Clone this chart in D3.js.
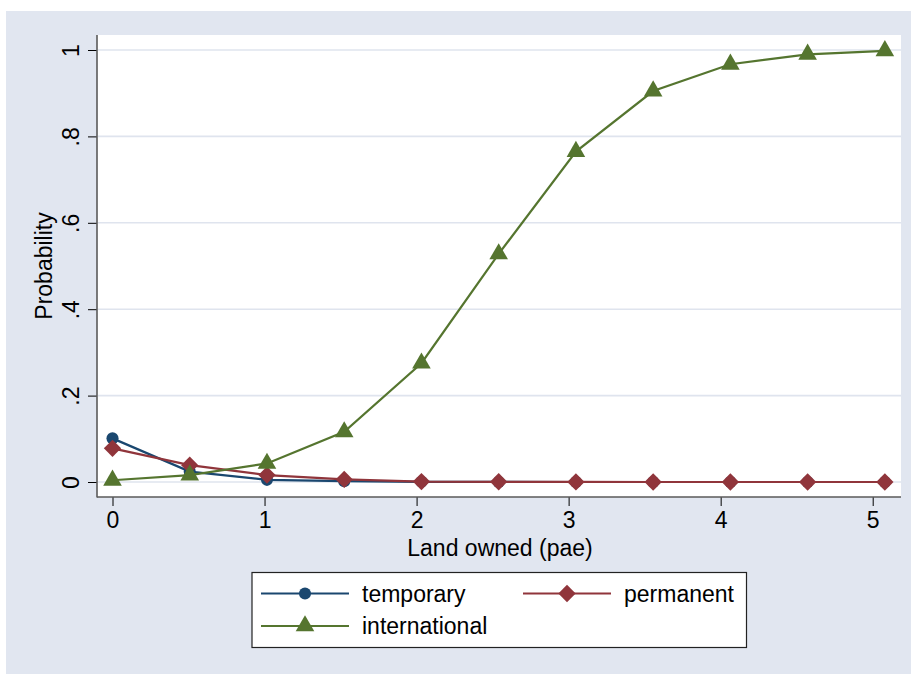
<!DOCTYPE html>
<html>
<head>
<meta charset="utf-8">
<script src="https://cdn.jsdelivr.net/npm/d3@7"></script>
<style>
  html, body { margin: 0; padding: 0; background: #ffffff; }
  svg { display: block; }
  text { font-family: "Liberation Sans", Arial, sans-serif; fill: #000; }
</style>
</head>
<body>
<svg id="chart" width="911" height="675"></svg>
<script>
// Land owned per adult equivalent (pae)
const landOwned = [0, 0.508, 1.016, 1.524, 2.032, 2.54, 3.048, 3.556, 4.064, 4.572, 5.08];

// Predicted probabilities by migration type
const temporary     = [0.101, 0.024, 0.005, 0.002, 0.0005, 0.0002, 0, 0, 0, 0, 0];
const permanent     = [0.078, 0.039, 0.016, 0.006, 0.001, 0.0005, 0.0002, 0, 0, 0, 0];
const international = [0.004, 0.016, 0.043, 0.116, 0.275, 0.528, 0.765, 0.905, 0.967, 0.990, 0.998];

const xTicks = [0, 1, 2, 3, 4, 5];
const yTicks = [0, 0.2, 0.4, 0.6, 0.8, 1];
const yTickLabels = ["0", ".2", ".4", ".6", ".8", "1"];

const seriesNames = ["temporary", "permanent", "international"];
const seriesColors = ["#1a476f", "#90353b", "#55752f"];
const seriesValues = [temporary, permanent, international];

// marker shapes: circle, square turned 45 degrees, triangle
const markerPaths = [
  d3.symbol().type(d3.symbolCircle).size(115)(),
  d3.symbol().type(d3.symbolSquare).size(150)(),
  d3.symbol().type(d3.symbolTriangle).size(150)()
];
const markerRotate = [0, 45, 0];

const svg = d3.select("#chart");
const bg = "#e1e6f0";
const FS = 23;

// graph region
svg.append("rect").attr("x", 6).attr("y", 11).attr("width", 905).attr("height", 663).attr("fill", bg);

// plot region
const plot = { left: 97, right: 901, top: 35, bottom: 497 };
svg.append("rect")
  .attr("x", plot.left).attr("y", plot.top)
  .attr("width", plot.right - plot.left).attr("height", plot.bottom - plot.top)
  .attr("fill", "#ffffff");

const x = d3.scaleLinear().domain([0, 5]).range([112.5, 872.7]);
const y = d3.scaleLinear().domain([0, 1]).range([482, 50]);

// gridlines
svg.append("g").selectAll("line").data(yTicks).join("line")
  .attr("x1", plot.left + 1).attr("x2", plot.right)
  .attr("y1", d => y(d)).attr("y2", d => y(d))
  .attr("stroke", "#dfe4ee").attr("stroke-width", 1.6);

// y axis
const yAxis = d3.axisLeft(y).tickValues(yTicks)
  .tickFormat((d, i) => yTickLabels[i]).tickSize(9).tickPadding(0);
const gy = svg.append("g").attr("transform", `translate(${plot.left},0)`).call(yAxis);
gy.select(".domain").remove();
gy.selectAll(".tick line").attr("stroke", "#000").attr("stroke-width", 1);
gy.selectAll(".tick text")
  .attr("font-size", FS).attr("text-anchor", "middle")
  .attr("x", null).attr("dy", null)
  .attr("transform", "translate(-18,0) rotate(-90)");
svg.append("line").attr("x1", plot.left).attr("x2", plot.left)
  .attr("y1", plot.top).attr("y2", plot.bottom + 0.5)
  .attr("stroke", "#5a5a5a").attr("stroke-width", 1.6);

// x axis
const xAxis = d3.axisBottom(x).tickValues(xTicks).tickFormat(d3.format("d")).tickSize(9).tickPadding(6);
const gx = svg.append("g").attr("transform", `translate(0,${plot.bottom})`).call(xAxis);
gx.select(".domain").remove();
gx.selectAll(".tick line").attr("stroke", "#000").attr("stroke-width", 1);
gx.selectAll(".tick text").attr("font-size", FS).attr("dy", "0.68em");
svg.append("line").attr("x1", plot.left).attr("x2", plot.right)
  .attr("y1", plot.bottom).attr("y2", plot.bottom)
  .attr("stroke", "#5a5a5a").attr("stroke-width", 1.6);

// axis titles
svg.append("text").attr("x", (plot.left + plot.right) / 2 + 1).attr("y", 556)
  .attr("text-anchor", "middle").attr("font-size", FS).text("Land owned (pae)");
svg.append("text").attr("transform", "translate(52,266) rotate(-90)")
  .attr("text-anchor", "middle").attr("font-size", FS).text("Probability");

// series
const line = d3.line().x(d => x(d[0])).y(d => y(d[1]));

seriesValues.forEach((vals, i) => {
  const pts = landOwned.map((lx, j) => [lx, vals[j]]);
  const g = svg.append("g");
  g.append("path").datum(pts).attr("d", line)
    .attr("fill", "none").attr("stroke", seriesColors[i]).attr("stroke-width", 2.2);
  g.selectAll("path.m").data(pts).join("path").attr("class", "m")
    .attr("transform", d => `translate(${x(d[0])},${y(d[1])}) rotate(${markerRotate[i]})`)
    .attr("d", markerPaths[i])
    .attr("fill", seriesColors[i]);
});

// legend
const legend = svg.append("g");
legend.append("rect").attr("x", 252).attr("y", 572.5).attr("width", 494.5).attr("height", 75)
  .attr("fill", "#ffffff").attr("stroke", "#222").attr("stroke-width", 1.2);

const legendItems = [
  { name: seriesNames[0], x1: 261, x2: 349, ty: 593.5, tx: 362 },
  { name: seriesNames[1], x1: 523, x2: 611, ty: 593.5, tx: 624 },
  { name: seriesNames[2], x1: 261, x2: 349, ty: 626, tx: 362 }
];
legendItems.forEach((it, i) => {
  legend.append("line").attr("x1", it.x1).attr("x2", it.x2).attr("y1", it.ty).attr("y2", it.ty)
    .attr("stroke", seriesColors[i]).attr("stroke-width", 2);
  legend.append("path")
    .attr("transform", `translate(${(it.x1 + it.x2) / 2},${it.ty}) rotate(${markerRotate[i]})`)
    .attr("d", markerPaths[i])
    .attr("fill", seriesColors[i]);
  legend.append("text").attr("x", it.tx).attr("y", it.ty + 8)
    .attr("font-size", FS).text(it.name);
});
</script>
</body>
</html>
